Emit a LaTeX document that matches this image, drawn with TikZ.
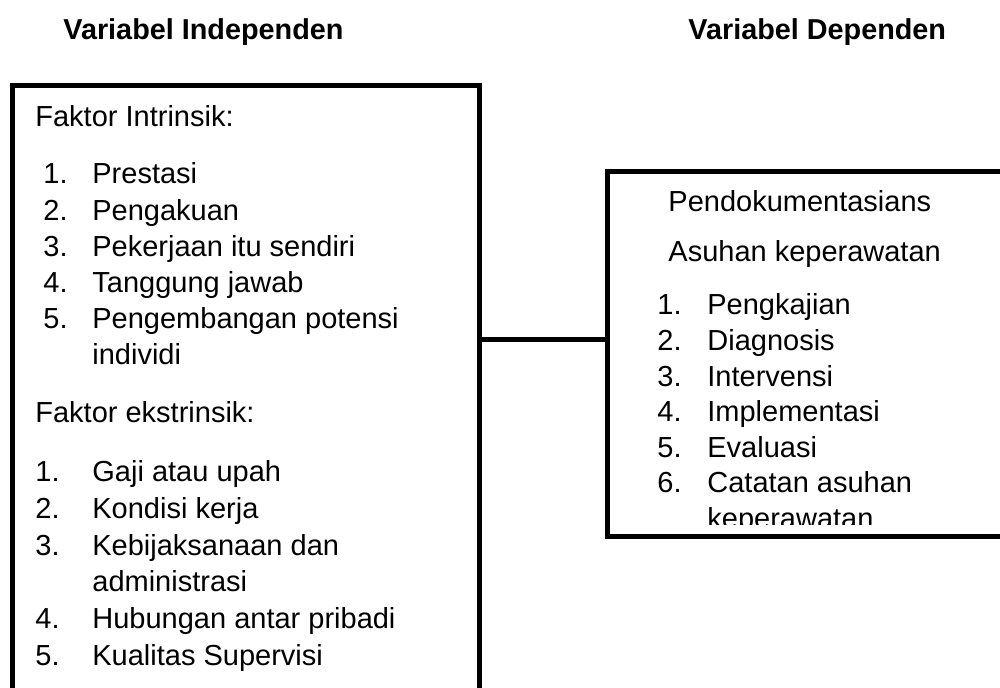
\documentclass[tikz,border=0pt]{standalone}
\usepackage{fontspec}
\setmainfont{Liberation Sans}
\usetikzlibrary{positioning}
\newcommand\numlbl[2][24.5pt]{\makebox[#1][l]{#2}}

\begin{document}
\begin{tikzpicture}[x=0.5pt,y=-0.5pt,
  boxframe/.style={draw,line width=2.5pt,inner sep=0pt},
  varhead/.style={anchor=base west,inner sep=0pt,font=\fontsize{14.4}{18}\selectfont\bfseries},
  txt/.style={anchor=base west,inner sep=0pt,font=\fontsize{14.5}{18}\selectfont},
  link/.style={line width=2.5pt}
]
\clip (0,0) rectangle (1000,688);

\node[varhead] (indeptitle) at (63,40) {Variabel Independen};
\node[varhead] (deptitle) at (688,40) {Variabel Dependen};

\node[boxframe,minimum width=233.5pt,minimum height=337pt] (indep) at (245.5,423) {};
\node[boxframe,minimum width=246.5pt,minimum height=182.5pt] (dep) at (853.5,354.5) {};

\coordinate (joint) at (540,340);
\draw[link] (joint -| indep.east) -- (joint -| dep.west);

\node[txt] (intrhead) at (35,127) {Faktor Intrinsik:};
\foreach \t [count=\i from 0] in {{\numlbl{1.}Prestasi},{\numlbl{2.}Pengakuan},
    {\numlbl{3.}Pekerjaan itu sendiri},{\numlbl{4.}Tanggung jawab},
    {\numlbl{5.}Pengembangan potensi},{\hspace*{24.5pt}individi}}
  \node[txt] (intr\i) at (43,184+36.2*\i) {\t};

\node[txt] (extrhead) at (35,423) {Faktor ekstrinsik:};
\foreach \t [count=\i from 0] in {{\numlbl[28.5pt]{1.}Gaji atau upah},{\numlbl[28.5pt]{2.}Kondisi kerja},
    {\numlbl[28.5pt]{3.}Kebijaksanaan dan},{\hspace*{28.5pt}administrasi},
    {\numlbl[28.5pt]{4.}Hubungan antar pribadi},{\numlbl[28.5pt]{5.}Kualitas Supervisi}}
  \node[txt] (extr\i) at (35,482+36.6*\i) {\t};

\node[txt] (dokhead) at (668,212) {Pendokumentasians};
\node[txt] (askephead) at (668,262) {Asuhan keperawatan};
\begin{scope}
\clip (607,172) rectangle (1000,525);
\foreach \t [count=\i from 0] in {{\numlbl[25pt]{1.}Pengkajian},{\numlbl[25pt]{2.}Diagnosis},
    {\numlbl[25pt]{3.}Intervensi},{\numlbl[25pt]{4.}Implementasi},
    {\numlbl[25pt]{5.}Evaluasi},{\numlbl[25pt]{6.}Catatan asuhan},{\hspace*{25pt}keperawatan}}
  \node[txt] (dok\i) at (657,315+35.6*\i) {\t};
\end{scope}
\end{tikzpicture}
\end{document}
